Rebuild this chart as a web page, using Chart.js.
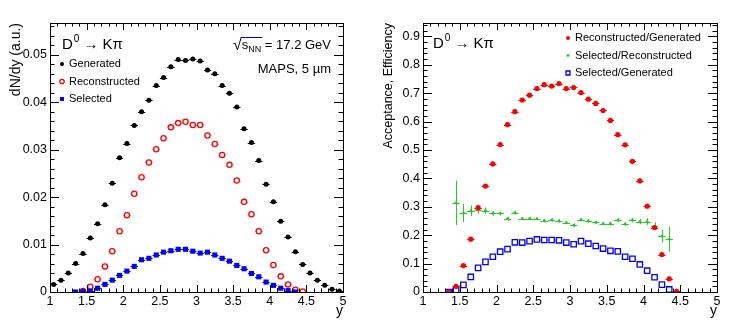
<!DOCTYPE html>
<html>
<head>
<meta charset="utf-8">
<script src="https://cdn.jsdelivr.net/npm/chart.js@4.4.1/dist/chart.umd.min.js"></script>
<style>
body { margin: 0; background: #fff; }
#wrap { display: flex; width: 747px; height: 335px; }
canvas { display: block; }
</style>
</head>
<body>
<div id="wrap">
  <canvas id="yields" width="373" height="335"></canvas>
  <canvas id="eff" width="374" height="335"></canvas>
</div>
<script>
// rapidity bin centres, 0.1 wide
const rapidityBins = [1.05, 1.15, 1.25, 1.35, 1.45, 1.55, 1.65, 1.75, 1.85, 1.95,
                      2.05, 2.15, 2.25, 2.35, 2.45, 2.55, 2.65, 2.75, 2.85, 2.95,
                      3.05, 3.15, 3.25, 3.35, 3.45, 3.55, 3.65, 3.75, 3.85, 3.95,
                      4.05, 4.15, 4.25, 4.35, 4.45, 4.55, 4.65, 4.75, 4.85, 4.95];

// left pad: dN/dy
const generated = [0.0016, 0.0025, 0.0040, 0.0060, 0.0081, 0.0114, 0.0144, 0.0184, 0.0229, 0.0283,
                   0.0313, 0.0351, 0.0380, 0.0404, 0.0435, 0.0452, 0.0475, 0.0490, 0.0488, 0.0491,
                   0.0487, 0.0468, 0.0460, 0.0435, 0.0419, 0.0390, 0.0344, 0.0315, 0.0277, 0.0227,
                   0.0190, 0.0149, 0.0116, 0.0085, 0.0058, 0.0040, 0.0025, 0.0014, 0.0006, 0.0002];
const reconstructed = [null, null, null, null, 0.0002, 0.0011, 0.0027, 0.0054, 0.0086, 0.0128,
                       0.0162, 0.0207, 0.0242, 0.0273, 0.0301, 0.0324, 0.0347, 0.0356, 0.0359, 0.0352,
                       0.0352, 0.0330, 0.0312, 0.0289, 0.0268, 0.0235, 0.0190, 0.0164, 0.0128, 0.0088,
                       0.0057, 0.0033, 0.0016, 0.0005, 0.0001, null, null, null, null, null];
const selected = [null, null, null, 0.0000, 0.0001, 0.0002, 0.0008, 0.0016, 0.0025, 0.0035,
                  0.0044, 0.0054, 0.0068, 0.0071, 0.0078, 0.0084, 0.0087, 0.0090, 0.0090, 0.0086,
                  0.0082, 0.0084, 0.0078, 0.0071, 0.0065, 0.0056, 0.0049, 0.0039, 0.0032, 0.0021,
                  0.0014, 0.0008, 0.0003, 0.0000, null, null, null, null, null, null];

// right pad: ratios
const recoOverGen = [null, null, null, 0.000, 0.020, 0.093, 0.186, 0.297, 0.373, 0.451,
                     0.519, 0.589, 0.635, 0.676, 0.693, 0.716, 0.730, 0.725, 0.734, 0.716,
                     0.720, 0.702, 0.679, 0.664, 0.639, 0.604, 0.554, 0.518, 0.460, 0.391,
                     0.302, 0.227, 0.132, 0.046, 0.002, null, null, null, null, null];
const selOverReco = [null, null, null, null, 0.314, 0.278, 0.286, 0.289, 0.286, 0.277,
                     0.277, 0.258, 0.279, 0.258, 0.258, 0.258, 0.251, 0.254, 0.250, 0.244,
                     0.235, 0.255, 0.250, 0.245, 0.241, 0.241, 0.253, 0.239, 0.253, 0.248,
                     0.248, 0.231, 0.197, 0.186, null, null, null, null, null, null];
const selOverRecoErr = [null, null, null, null, 0.078, 0.032, 0.019, 0.013, 0.011, 0.008,
                        0.007, 0.007, 0.006, 0.006, 0.006, 0.006, 0.006, 0.006, 0.006, 0.006,
                        0.006, 0.006, 0.006, 0.006, 0.006, 0.007, 0.007, 0.007, 0.008, 0.009,
                        0.012, 0.014, 0.022, 0.044, null, null, null, null, null, null];
const selOverGen = [null, null, null, 0.000, 0.006, 0.025, 0.053, 0.085, 0.106, 0.124,
                    0.142, 0.151, 0.175, 0.174, 0.179, 0.185, 0.183, 0.183, 0.182, 0.174,
                    0.168, 0.179, 0.170, 0.162, 0.153, 0.145, 0.143, 0.124, 0.117, 0.097,
                    0.075, 0.052, 0.026, 0.009, null, null, null, null, null, null];

const xTicks = [1, 1.5, 2, 2.5, 3, 3.5, 4, 4.5, 5];
const yieldTicks = [0, 0.01, 0.02, 0.03, 0.04, 0.05];
const effTicks = [0, 0.1, 0.2, 0.3, 0.4, 0.5, 0.6, 0.7, 0.8, 0.9];

const binHalfWidth = 0.05;
const FONT = '"Liberation Sans", Arial, Helvetica, sans-serif';
Chart.defaults.font.family = FONT;
Chart.defaults.color = '#000';

function series(values, errors) {
    const pts = [];
    rapidityBins.forEach((x, i) => {
        if (values[i] === null) return;
        pts.push({x: x, y: values[i], e: errors ? errors[i] : 0});
    });
    return pts;
}

// horizontal bin-width bars and vertical errors, ROOT style (gap where the marker sits)
const errorBars = {
    id: 'errorBars',
    beforeDatasetsDraw(chart) {
        const ctx = chart.ctx;
        const xs = chart.scales.x, ys = chart.scales.y;
        ctx.save();
        ctx.lineWidth = 1;
        for (const ds of chart.data.datasets) {
            const gap = ds.barGap || 0;
            ctx.strokeStyle = ds.borderColor;
            ctx.beginPath();
            for (const p of ds.data) {
                const cx = xs.getPixelForValue(p.x);
                const px = Math.round(cx) + 0.5;
                const py = Math.round(ys.getPixelForValue(p.y)) + 0.5;
                const x0 = xs.getPixelForValue(p.x - binHalfWidth);
                const x1 = xs.getPixelForValue(p.x + binHalfWidth);
                if (cx - gap > x0) {
                    ctx.moveTo(x0, py); ctx.lineTo(cx - gap, py);
                    ctx.moveTo(cx + gap, py); ctx.lineTo(x1, py);
                }
                if (p.e) {
                    ctx.moveTo(px, ys.getPixelForValue(p.y - p.e));
                    ctx.lineTo(px, ys.getPixelForValue(p.y + p.e));
                }
            }
            ctx.stroke();
        }
        ctx.restore();
    }
};

// frame with inward ticks on all four sides, legend and labels
const rootFrame = {
    id: 'rootFrame',
    afterDraw(chart, args, o) {
        const {ctx, chartArea: a} = chart;
        const x = chart.scales.x, y = chart.scales.y;
        ctx.save();
        ctx.strokeStyle = '#000';
        ctx.lineWidth = 1;
        ctx.strokeRect(Math.round(a.left) + 0.5, Math.round(a.top) + 0.5,
                       Math.round(a.right - a.left), Math.round(a.bottom - a.top));
        ctx.beginPath();
        const nx = Math.round((x.max - x.min) / o.xMinor);
        for (let i = 0; i <= nx; i++) {
            const px = Math.round(x.getPixelForValue(x.min + i * o.xMinor)) + 0.5;
            const len = i % o.xDiv === 0 ? 7 : 3.5;
            ctx.moveTo(px, a.bottom); ctx.lineTo(px, a.bottom - len);
            ctx.moveTo(px, a.top); ctx.lineTo(px, a.top + len);
        }
        const ny = Math.floor((y.max - y.min) / o.yMinor + 1e-6);
        for (let i = 0; i <= ny; i++) {
            const py = Math.round(y.getPixelForValue(y.min + i * o.yMinor)) + 0.5;
            const len = i % o.yDiv === 0 ? 9 : 4.5;
            ctx.moveTo(a.left, py); ctx.lineTo(a.left + len, py);
            ctx.moveTo(a.right, py); ctx.lineTo(a.right - len, py);
        }
        ctx.stroke();

        // legend
        ctx.font = '11px ' + FONT;
        ctx.textBaseline = 'middle';
        ctx.textAlign = 'left';
        o.legend.rows.forEach((row, i) => {
            const ds = chart.data.datasets[row];
            const ly = o.legend.y + i * o.legend.step;
            ctx.fillStyle = ds.backgroundColor;
            ctx.strokeStyle = ds.borderColor;
            ctx.lineWidth = ds.pointBorderWidth || 1;
            Chart.helpers.drawPoint(ctx, {pointStyle: ds.pointStyle, radius: ds.legendRadius,
                borderWidth: ds.pointBorderWidth, rotation: 0}, o.legend.x, ly);
            ctx.fillStyle = '#000';
            ctx.fillText(ds.label, o.legend.x + 7, ly);
        });
        ctx.lineWidth = 1;

        // D0 -> K pi
        ctx.textBaseline = 'alphabetic';
        let tx = o.decay.x;
        ctx.font = '15px ' + FONT;
        ctx.fillText('D', tx, o.decay.y);
        tx += ctx.measureText('D').width + 1;
        ctx.font = '10px ' + FONT;
        ctx.fillText('0', tx, o.decay.y - 7);
        tx += ctx.measureText('0').width + 4;
        ctx.font = '15px ' + FONT;
        ctx.fillText('\u2192 K\u03c0', tx, o.decay.y);

        if (o.energy) {
            const right = a.right - 12;
            const base = 49;
            ctx.font = '13px ' + FONT;
            const tail = ' = 17.2 GeV';
            const wS = ctx.measureText('s').width;
            const wTail = ctx.measureText(tail).width;
            ctx.font = '9px ' + FONT;
            const wNN = ctx.measureText('NN').width;
            ctx.font = '16px ' + FONT;
            const wRoot = ctx.measureText('\u221a').width;
            let sx = right - (wRoot + wS + wNN + wTail);
            ctx.fillText('\u221a', sx, base + 1);
            sx += wRoot;
            ctx.beginPath();
            ctx.moveTo(sx - 1, base - 11.5);
            ctx.lineTo(sx + wS + wNN + 1, base - 11.5);
            ctx.stroke();
            ctx.font = '13px ' + FONT;
            ctx.fillText('s', sx, base);
            sx += wS;
            ctx.font = '9px ' + FONT;
            ctx.fillText('NN', sx, base + 3);
            sx += wNN;
            ctx.font = '13px ' + FONT;
            ctx.fillText(tail, sx, base);
            ctx.textAlign = 'right';
            ctx.fillText('MAPS, 5 \u00b5m', right, 73);
        }
        ctx.restore();
    }
};

function xAxis() {
    return {
        type: 'linear', min: 1, max: 5,
        afterBuildTicks: s => { s.ticks = xTicks.map(v => ({value: v})); },
        afterFit: s => { s.height = 43; },
        grid: {display: false, drawTicks: false},
        border: {display: false},
        ticks: {font: {size: 12.5}, color: '#000', padding: 2, maxRotation: 0, autoSkip: false,
                callback: v => String(+v.toFixed(3))},
        title: {display: true, text: 'y', align: 'end', color: '#000',
                font: {size: 14}, padding: {top: 0, bottom: 15}}
    };
}

function yAxis(max, ticks, title, titleSize) {
    return {
        type: 'linear', min: 0, max: max,
        afterBuildTicks: s => { s.ticks = ticks.map(v => ({value: v})); },
        afterFit: s => { s.width = 50; },
        grid: {display: false, drawTicks: false},
        border: {display: false},
        ticks: {font: {size: 12.5}, color: '#000', padding: 3, autoSkip: false,
                callback: v => String(+v.toFixed(3))},
        title: {display: true, text: title, align: 'end', color: '#000',
                font: {size: titleSize}, padding: {top: 8, bottom: 0}}
    };
}

new Chart(document.getElementById('yields'), {
    type: 'scatter',
    data: {
        datasets: [
            {label: 'Generated', data: series(generated), order: 2,
             pointStyle: 'circle', pointRadius: 2.5, legendRadius: 2, pointBorderWidth: 0,
             backgroundColor: '#000', borderColor: '#000'},
            {label: 'Reconstructed', data: series(reconstructed), order: 1, barGap: 3.2,
             pointStyle: 'circle', pointRadius: 2.6, legendRadius: 2.2, pointBorderWidth: 1.3,
             backgroundColor: 'rgba(0,0,0,0)', borderColor: '#ff0000'},
            {label: 'Selected', data: series(selected), order: 0,
             pointStyle: 'rect', pointRadius: 3.6, legendRadius: 2.8, pointBorderWidth: 0,
             backgroundColor: '#0000ff', borderColor: '#0000ff'}
        ]
    },
    options: {
        responsive: false,
        animation: false,
        layout: {padding: {top: 23, right: 30, left: 0, bottom: 0}},
        scales: {x: xAxis(), y: yAxis(0.0567, yieldTicks, 'dN/dy (a.u.)', 14)},
        plugins: {
            legend: {display: false},
            tooltip: {enabled: false},
            rootFrame: {xMinor: 0.1, xDiv: 5, yMinor: 0.002, yDiv: 5,
                        legend: {x: 62, y: 64, step: 17.5, rows: [0, 1, 2]},
                        decay: {x: 62, y: 49}, energy: true}
        }
    },
    plugins: [errorBars, rootFrame]
});

new Chart(document.getElementById('eff'), {
    type: 'scatter',
    data: {
        datasets: [
            {label: 'Reconstructed/Generated', data: series(recoOverGen), order: 0,
             pointStyle: 'circle', pointRadius: 2.6, legendRadius: 2, pointBorderWidth: 0,
             backgroundColor: '#ff0000', borderColor: '#ff0000'},
            {label: 'Selected/Reconstructed', data: series(selOverReco, selOverRecoErr), order: 1,
             pointStyle: 'circle', pointRadius: 1.4, legendRadius: 1.4, pointBorderWidth: 0,
             backgroundColor: '#22cc22', borderColor: '#22cc22'},
            {label: 'Selected/Generated', data: series(selOverGen), order: 2, barGap: 3.5,
             pointStyle: 'rect', pointRadius: 3.8, legendRadius: 2.8, pointBorderWidth: 1.3,
             backgroundColor: 'rgba(0,0,0,0)', borderColor: '#0000ff'}
        ]
    },
    options: {
        responsive: false,
        animation: false,
        layout: {padding: {top: 23, right: 30, left: 0, bottom: 0}},
        scales: {x: xAxis(), y: yAxis(0.947, effTicks, 'Acceptance, Efficiency', 12.5)},
        plugins: {
            legend: {display: false},
            tooltip: {enabled: false},
            rootFrame: {xMinor: 0.1, xDiv: 5, yMinor: 0.02, yDiv: 5,
                        legend: {x: 195, y: 38, step: 17.5, rows: [0, 1, 2]},
                        decay: {x: 60, y: 48}, energy: false}
        }
    },
    plugins: [errorBars, rootFrame]
});
</script>
</body>
</html>
